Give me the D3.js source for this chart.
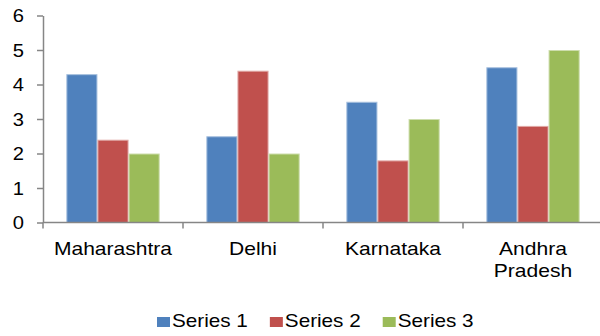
<!DOCTYPE html>
<html>
<head>
<meta charset="utf-8">
<script src="https://cdn.jsdelivr.net/npm/d3@7"></script>
<style>
  html, body { margin: 0; padding: 0; background: #fff; }
  svg { display: block; font-family: "Liberation Sans", Arial, sans-serif; }
</style>
</head>
<body>
<svg id="chart" width="600" height="336"></svg>
<script>
// Chart data
const categories = ["Maharashtra", "Delhi", "Karnataka", "Andhra Pradesh"];
const seriesNames = ["Series 1", "Series 2", "Series 3"];
const series1 = [4.3, 2.5, 3.5, 4.5];
const series2 = [2.4, 4.4, 1.8, 2.8];
const series3 = [2.0, 2.0, 3.0, 5.0];
const yTicks = [0, 1, 2, 3, 4, 5, 6];
const colors = ["#4F81BD", "#C0504D", "#9BBB59"];
const edgeColors = ["#A7C0DE", "#E0A8A6", "#CDDDAC"];

const seriesValues = [series1, series2, series3];

const svg = d3.select("#chart");
const margin = { left: 43, right: -3, top: 15.5, bottom: 113.5 };
const W = 600, H = 336;
const stretch = 1.15; // wide lettering used for all labels

const x = d3.scaleBand()
  .domain(categories)
  .range([margin.left, W - margin.right])
  .paddingInner(0).paddingOuter(0);

const x1 = d3.scaleBand()
  .domain(seriesNames)
  .range([0, x.bandwidth()])
  .paddingOuter(0.75).paddingInner(0);

const y = d3.scaleLinear()
  .domain([0, 6])
  .range([H - margin.bottom, margin.top]);

const axisColor = "#868686";

// Bars
const groups = svg.append("g").selectAll("g")
  .data(categories)
  .join("g")
  .attr("transform", d => `translate(${x(d)},0)`);

groups.selectAll("rect")
  .data((c, ci) => seriesNames.map((s, si) => ({ s, si, v: seriesValues[si][ci] })))
  .join("rect")
  .attr("x", d => x1(d.s) + 0.5)
  .attr("width", x1.bandwidth() - 1)
  .attr("y", d => y(d.v) + 0.5)
  .attr("height", d => y(0) - y(d.v) - 0.5)
  .attr("fill", d => colors[d.si])
  .attr("stroke", d => edgeColors[d.si])
  .attr("stroke-width", 1);

// Y axis
const yAxis = svg.append("g")
  .attr("transform", `translate(${margin.left},0)`)
  .call(d3.axisLeft(y).tickValues(yTicks).tickFormat(d3.format("d")).tickSizeInner(6).tickSizeOuter(0).tickPadding(0));
yAxis.select(".domain").attr("stroke", axisColor).attr("stroke-width", 1.5);
yAxis.selectAll(".tick line").attr("stroke", axisColor).attr("stroke-width", 1.5);
yAxis.selectAll(".tick text")
  .attr("fill", "#000")
  .attr("x", 0)
  .attr("text-anchor", "end")
  .attr("transform", "translate(-19,0) scale(1.12,1)")
  .style("font-size", "18px")
  .attr("dy", "0.36em");

// X axis (ticks at category boundaries)
const boundaries = categories.map(c => x(c)).concat([x(categories[categories.length - 1]) + x.bandwidth()]);
const xAxisG = svg.append("g");
xAxisG.append("line")
  .attr("x1", margin.left).attr("x2", W - margin.right)
  .attr("y1", y(0)).attr("y2", y(0))
  .attr("stroke", axisColor).attr("stroke-width", 1.5);
xAxisG.selectAll("line.tk")
  .data(boundaries)
  .join("line")
  .attr("class", "tk")
  .attr("x1", d => d).attr("x2", d => d)
  .attr("y1", y(0)).attr("y2", y(0) + 6)
  .attr("stroke", axisColor).attr("stroke-width", 1.5);

// Category labels (wrapped onto lines)
const labelLines = { "Andhra Pradesh": ["Andhra", "Pradesh"] };
xAxisG.selectAll("text.cat")
  .data(categories)
  .join("text")
  .attr("class", "cat")
  .attr("text-anchor", "middle")
  .attr("fill", "#000")
  .style("font-size", "18px")
  .attr("transform", d => `translate(${x(d) + x.bandwidth() / 2},${y(0) + 32.5}) scale(1.17,1)`)
  .each(function (d) {
    const lines = labelLines[d] || [d];
    const t = d3.select(this);
    lines.forEach((ln, i) => {
      t.append("tspan")
        .attr("x", 0)
        .attr("y", i * 22)
        .text(ln);
    });
  });

// Legend
const legend = svg.append("g");
const legendY = 327;
let lx = 157;
seriesNames.forEach((name, i) => {
  const item = legend.append("g");
  item.append("rect")
    .attr("x", lx).attr("y", legendY - 10)
    .attr("width", 13).attr("height", 10)
    .attr("fill", colors[i]);
  const tx = lx + 15;
  const txt = item.append("text")
    .attr("transform", `translate(${tx},${legendY}) scale(${stretch},1)`)
    .attr("fill", "#000")
    .style("font-size", "18px")
    .text(name);
  lx = tx + txt.node().getComputedTextLength() * stretch + 22;
});
</script>
</body>
</html>
